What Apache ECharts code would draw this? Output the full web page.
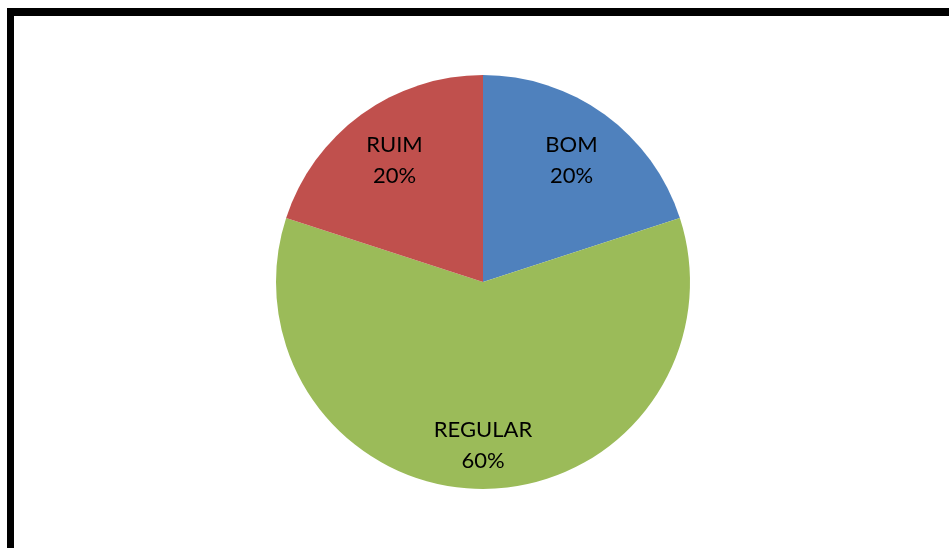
<!DOCTYPE html>
<html>
<head>
<meta charset="utf-8">
<script src="https://cdn.jsdelivr.net/npm/echarts@6/dist/echarts.min.js"></script>
<style>
  html, body { margin: 0; padding: 0; background: #ffffff; }
  #chart { width: 949px; height: 548px; }
</style>
</head>
<body>
<div id="chart"></div>
<script>
// Survey answers and their shares (percent)
const categories = ['BOM', 'REGULAR', 'RUIM'];
const shares = [20, 60, 20];
const colors = ['#4F81BD', '#9BBB59', '#C0504D'];

const pieData = categories.map((name, i) => ({
  name: name,
  value: shares[i],
  itemStyle: { color: colors[i] }
}));

// Transparent copy of the pie that only carries the labels; an empty
// spacer line above the big slice's text nudges it down a little.
const labelData = categories.map((name, i) => ({
  name: name,
  value: shares[i],
  label: {
    formatter: (name === 'REGULAR' ? '{big|}\n' : '') + '{t|' + name + '}\n{t|' + shares[i] + '%}'
  }
}));

const chart = echarts.init(document.getElementById('chart'), null, { renderer: 'canvas' });

chart.setOption({
  backgroundColor: '#ffffff',
  animation: false,
  graphic: [
    { type: 'rect', shape: { x: 7, y: 8, width: 942, height: 8 }, style: { fill: '#000000' } },
    { type: 'rect', shape: { x: 7, y: 8, width: 7, height: 540 }, style: { fill: '#000000' } }
  ],
  series: [
    {
      type: 'pie',
      center: [483, 282],
      radius: [0, 207],
      startAngle: 90,
      clockwise: true,
      silent: true,
      label: { show: false },
      labelLine: { show: false },
      itemStyle: { borderWidth: 0 },
      data: pieData
    },
    {
      type: 'pie',
      center: [483, 282],
      radius: [88, 207],
      startAngle: 90,
      clockwise: true,
      silent: true,
      itemStyle: { color: 'rgba(0,0,0,0)', borderWidth: 0 },
      labelLine: { show: false },
      label: {
        show: true,
        position: 'inside',
        align: 'center',
        rich: {
          t: { fontFamily: 'Lato', fontSize: 22, lineHeight: 31, color: '#000000', align: 'center' },
          big: { height: 26, lineHeight: 26, fontSize: 1 }
        }
      },
      data: labelData
    }
  ]
});
</script>
</body>
</html>
